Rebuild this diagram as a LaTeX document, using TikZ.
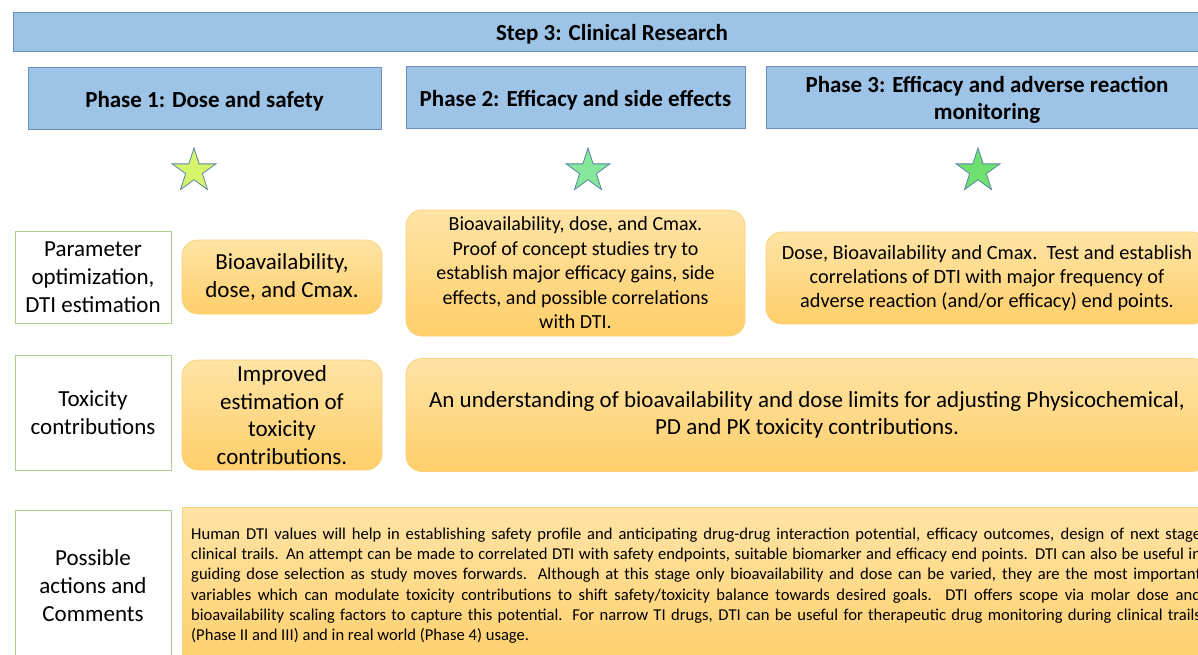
\documentclass[tikz,border=0pt]{standalone}
\usepackage{fontspec}
\setmainfont{Carlito}
\usetikzlibrary{shapes.geometric}
\definecolor{hdrfill}{HTML}{9DC3E6}
\definecolor{hdrline}{HTML}{6A8FBF}
\definecolor{lblline}{HTML}{A9D18E}
\definecolor{otop}{HTML}{FFE4A6}
\definecolor{obot}{HTML}{FFCF6A}
\definecolor{oline}{HTML}{FAD37C}
\definecolor{starline}{HTML}{5A84A8}
\definecolor{starA}{HTML}{D6F46C}
\definecolor{starB}{HTML}{86E69A}
\definecolor{starC}{HTML}{6EE06E}
\tikzset{
  hdr/.style={draw=hdrline, fill=hdrfill, line width=0.8pt, inner sep=0pt},
  hdrtext/.style={font=\bfseries\fontsize{23}{27}\selectfont, align=center, inner sep=0pt},
  lbl/.style={draw=lblline, fill=white, line width=0.8pt, font=\fontsize{23}{28}\selectfont, align=center, inner sep=0pt},
  obox/.style={draw=oline, line width=0.8pt, rounded corners=16pt, top color=otop, bottom color=obot, align=center, inner sep=0pt},
  sqbox/.style={draw=oline, line width=0.8pt, top color=otop, bottom color=obot, inner sep=0pt},
  starshape/.style={star, star points=5, star point ratio=2.618, minimum size=46pt, inner sep=0pt, draw=starline, line width=0.8pt},
}
\begin{document}
\begin{tikzpicture}[x=1pt,y=-1pt]
\useasboundingbox (0,0) rectangle (1198,655);
\clip (0,0) rectangle (1198,655);
% headers
\node[hdr, minimum width=1198pt, minimum height=39pt] (step) at (612,31.5) {};
\node[hdrtext] (stept) at (612,34) {Step 3: Clinical Research};
\node[hdr, minimum width=353pt, minimum height=62pt] (ph1) at (204.5,98) {};
\node[hdrtext] (ph1t) at (204.5,101) {Phase 1: Dose and safety};
\node[hdr, minimum width=339pt, minimum height=62pt] (ph2) at (575.5,97) {};
\node[hdrtext] (ph2t) at (575.5,100) {Phase 2: Efficacy and side effects};
\node[hdr, minimum width=442pt, minimum height=62pt] (ph3) at (987,97) {};
\node[hdrtext] (ph3t) at (987,100) {Phase 3: Efficacy and adverse reaction\\monitoring};
% stars
\node[starshape, fill=starA] (s1) at (194,171) {};
\node[starshape, fill=starB] (s2) at (588,171) {};
\node[starshape, fill=starC] (s3) at (978,171) {};
% row labels
\node[lbl, minimum width=156pt, minimum height=92pt] (l1) at (93,277) {Parameter\\optimization,\\DTI estimation};
\node[lbl, minimum width=156pt, minimum height=115pt] (l2) at (93,412.5) {Toxicity\\contributions};
\node[lbl, minimum width=156pt, minimum height=160pt] (l3) at (93,590) {};
\node[font=\fontsize{23}{28}\selectfont, align=center, inner sep=0pt] (l3t) at (93,586) {Possible\\actions and\\Comments};
% parameter row
\node[obox, minimum width=200pt, minimum height=74pt, font=\fontsize{23}{28}\selectfont] (p1) at (282,277) {Bioavailability,\\dose, and Cmax.};
\node[obox, minimum width=339pt, minimum height=126pt, font=\fontsize{20}{24.5}\selectfont] (p2) at (575.5,273) {Bioavailability, dose, and Cmax.\\Proof of concept studies try to\\establish major efficacy gains, side\\effects, and possible correlations\\with DTI.};
\node[obox, minimum width=442pt, minimum height=92pt, font=\fontsize{20.3}{24}\selectfont] (p3) at (987,278) {Dose, Bioavailability and Cmax.\ \ Test and establish\\correlations of DTI with major frequency of\\adverse reaction (and/or efficacy) end points.};
% toxicity row
\node[obox, minimum width=200pt, minimum height=110pt, font=\fontsize{23}{27.5}\selectfont] (t1) at (282,415) {Improved\\estimation of\\toxicity\\contributions.};
\node[obox, minimum width=802pt, minimum height=113pt, font=\fontsize{23}{27}\selectfont] (t2) at (807,415) {An understanding of bioavailability and dose limits for adjusting Physicochemical,\\PD and PK toxicity contributions.};
% comments
\node[sqbox, minimum width=1030pt, minimum height=165pt, anchor=north west] (c1) at (182,507) {};
\node[anchor=north west, inner sep=0pt, text width=1010pt, align=justify, font=\fontsize{16.6}{20.3}\selectfont] (c1t) at (191,527.5) {Human DTI values will help in establishing safety profile and anticipating drug-drug interaction potential, efficacy outcomes, design of next stage\linebreak clinical trails.  An attempt can be made to correlated DTI with safety endpoints, suitable biomarker and efficacy end points.  DTI can also be useful in\linebreak guiding dose selection as study moves forwards.  Although at this stage only bioavailability and dose can be varied, they are the most important\linebreak variables which can modulate toxicity contributions to shift safety/toxicity balance towards desired goals.  DTI offers scope via molar dose and\linebreak bioavailability scaling factors to capture this potential. For narrow TI drugs, DTI can be useful for therapeutic drug monitoring during clinical trails\linebreak (Phase II and III) and in real world (Phase 4) usage.};
\end{tikzpicture}
\end{document}
